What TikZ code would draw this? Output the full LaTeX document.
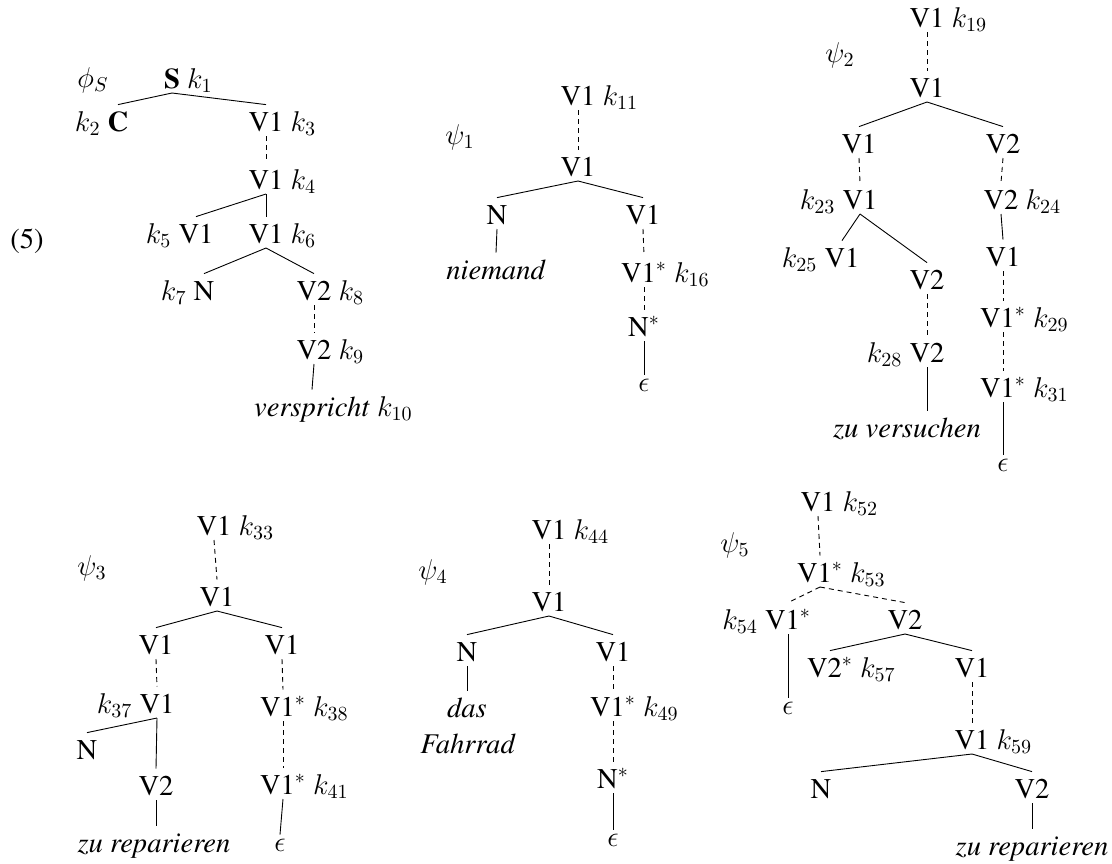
\RequirePackage{fix-cm}
\documentclass[tikz,border=0pt]{standalone}
\usepackage[T1]{fontenc}
\usepackage{times}
\begin{document}
\begin{tikzpicture}[x=0.5pt,y=-0.5pt,
  every node/.style={font=\fontsize{14.3pt}{18pt}\selectfont},
  tn/.style={inner sep=0pt, text height=13pt, text depth=2.3pt, anchor=base},
  en/.style={inner sep=0pt, text height=8pt, text depth=2pt, anchor=base},
  lab/.style={inner sep=0pt, anchor=center},
  sl/.style={line width=0.45pt},
  dl/.style={line width=0.45pt, dash pattern=on 2.5pt off 2pt}]
\useasboundingbox (0,0) rectangle (1112,863);

% ---------- phi_S ----------
\node[lab] (lphi) at (93,80) {$\phi_S$};
\node[lab] (ex) at (27,241) {(5)};
\node[tn] (s1) at (172,88) {\textbf{S}\rlap{ $k_1$}};
\node[tn] (s2) at (118,131) {\llap{$k_2$ }\textbf{C}};
\node[tn] (s3) at (266,131) {V1\rlap{ $k_3$}};
\node[tn] (s4) at (266,189) {V1\rlap{ $k_4$}};
\node[tn] (s5) at (196,243) {\llap{$k_5$ }V1};
\node[tn] (s6) at (266,243) {V1\rlap{ $k_6$}};
\node[tn] (s7) at (204,300) {\llap{$k_7$ }N};
\node[tn] (s8) at (314,300) {V2\rlap{ $k_8$}};
\node[tn] (s9) at (314,359) {V2\rlap{ $k_9$}};
\node[tn] (s10) at (312,416) {\textit{verspricht}\rlap{ $k_{10}$}};
\draw[sl] (s1.south) -- (s2.north);
\draw[sl] (s1.south) -- (s3.north);
\draw[dl] (s3.south) -- (s4.north);
\draw[sl] (s4.south) -- (s5.north);
\draw[sl] (s4.south) -- (s6.north);
\draw[sl] (s6.south) -- (s7.north);
\draw[sl] (s6.south) -- (s8.north);
\draw[dl] (s8.south) -- (s9.north);
\draw[sl] (s9.south) -- (s10.north);

% ---------- psi_1 ----------
\node[lab] (lp1) at (460,137) {$\psi_1$};
\node[tn] (a1) at (578,105) {V1\rlap{ $k_{11}$}};
\node[tn] (b1) at (578,176) {V1};
\node[tn] (c1) at (497,224) {N};
\node[tn] (d1) at (643,224) {V1};
\node[tn] (w1) at (496,279) {\textit{niemand}};
\node[tn] (e1) at (644,282) {V1$^*$\rlap{ $k_{16}$}};
\node[tn] (f1) at (644,336) {N$^*$};
\node[en] (g1) at (644,391) {$\epsilon$};
\draw[dl] (a1.south) -- (b1.north);
\draw[sl] (b1.south) -- (c1.north);
\draw[sl] (b1.south) -- (d1.north);
\draw[sl] (c1.south) -- (w1.north);
\draw[dl] (d1.south) -- (e1.north);
\draw[dl] (e1.south) -- (f1.north);
\draw[sl] (f1.south) -- (g1.north);

% ---------- psi_2 ----------
\node[lab] (lp2) at (840,55) {$\psi_2$};
\node[tn] (a2) at (927,27) {V1\rlap{ $k_{19}$}};
\node[tn] (b2) at (927,97) {V1};
\node[tn] (c2) at (859,153) {V1};
\node[tn] (d2) at (1003,153) {V2};
\node[tn] (e2) at (860,209) {\llap{$k_{23}$ }V1};
\node[tn] (g2) at (1001,209) {V2\rlap{ $k_{24}$}};
\node[tn] (f2) at (842,267) {\llap{$k_{25}$ }V1};
\node[tn] (h2) at (927,289) {V2};
\node[tn] (i2) at (927,362) {\llap{$k_{28}$ }V2};
\node[tn] (w2) at (907,437) {\textit{zu versuchen}};
\node[tn] (j2) at (1003,266) {V1};
\node[tn] (k2) at (1003,327) {V1$^*$\rlap{ $k_{29}$}};
\node[tn] (l2) at (1003,397) {V1$^*$\rlap{ $k_{31}$}};
\node[en] (m2) at (1003,471) {$\epsilon$};
\draw[dl] (a2.south) -- (b2.north);
\draw[sl] (b2.south) -- (c2.north);
\draw[sl] (b2.south) -- (d2.north);
\draw[dl] (c2.south) -- (e2.north);
\draw[dl] (d2.south) -- (g2.north);
\draw[sl] (e2.south) -- (f2.north);
\draw[sl] (e2.south) -- (h2.north);
\draw[dl] (h2.south) -- (i2.north);
\draw[sl] (i2.south) -- (i2.south |- w2.north);
\draw[sl] (g2.south) -- (j2.north);
\draw[dl] (j2.south) -- (k2.north);
\draw[dl] (k2.south) -- (l2.north);
\draw[sl] (l2.south) -- (m2.north);

% ---------- psi_3 ----------
\node[lab] (lp3) at (92,568) {$\psi_3$};
\node[tn] (a3) at (214,535) {V1\rlap{ $k_{33}$}};
\node[tn] (b3) at (217,606) {V1};
\node[tn] (c3) at (156,654) {V1};
\node[tn] (d3) at (282,654) {V1};
\node[tn] (e3) at (157,713) {\llap{$k_{37}$ }V1};
\node[tn] (n3) at (87,759) {N};
\node[tn] (v3) at (156,795) {V2};
\node[tn] (w3) at (154,852) {\textit{zu reparieren}};
\node[tn] (f3) at (283,716) {V1$^*$\rlap{ $k_{38}$}};
\node[tn] (g3) at (283,794) {V1$^*$\rlap{ $k_{41}$}};
\node[en] (h3) at (280,851) {$\epsilon$};
\draw[dl] (a3.south) -- (b3.north);
\draw[sl] (b3.south) -- (c3.north);
\draw[sl] (b3.south) -- (d3.north);
\draw[dl] (c3.south) -- (e3.north);
\draw[sl] (e3.south) -- (n3.north);
\draw[sl] (e3.south) -- (v3.north);
\draw[sl] (v3.south) -- (v3.south |- w3.north);
\draw[dl] (d3.south) -- (f3.north);
\draw[dl] (f3.south) -- (g3.north);
\draw[sl] (g3.south) -- (h3.north);

% ---------- psi_4 ----------
\node[lab] (lp4) at (433,572) {$\psi_4$};
\node[tn] (a4) at (549,539) {V1\rlap{ $k_{44}$}};
\node[tn] (b4) at (549,611) {V1};
\node[tn] (c4) at (467,661) {N};
\node[tn] (d4) at (613,661) {V1};
\node[tn] (w4) at (467,717) {\textit{das}};
\node[tn] (x4) at (468,753) {\textit{Fahrrad}};
\node[tn] (e4) at (613,716) {V1$^*$\rlap{ $k_{49}$}};
\node[tn] (f4) at (613,788) {N$^*$};
\node[en] (g4) at (613,846) {$\epsilon$};
\draw[dl] (a4.south) -- (b4.north);
\draw[sl] (b4.south) -- (c4.north);
\draw[sl] (b4.south) -- (d4.north);
\draw[sl] (c4.south) -- (w4.north);
\draw[dl] (d4.south) -- (e4.north);
\draw[dl] (e4.south) -- (f4.north);
\draw[sl] (f4.south) -- (g4.north);

% ---------- psi_5 ----------
\node[lab] (lp5) at (735,545) {$\psi_5$};
\node[tn] (a5) at (818,511) {V1\rlap{ $k_{52}$}};
\node[tn] (b5) at (820,582) {V1$^*$\rlap{ $k_{53}$}};
\node[tn] (c5) at (788,629) {\llap{$k_{54}$ }V1$^*$};
\node[tn] (d5) at (905,629) {V2};
\node[en] (h5) at (788,714) {$\epsilon$};
\node[tn] (e5) at (830,677) {V2$^*$\rlap{ $k_{57}$}};
\node[tn] (f5) at (972,677) {V1};
\node[tn] (g5) at (972,749) {V1\rlap{ $k_{59}$}};
\node[tn] (n5) at (821,798) {N};
\node[tn] (v5) at (1032,798) {V2};
\node[tn] (w5) at (1032,855) {\textit{zu reparieren}};
\draw[dl] (a5.south) -- (b5.north);
\draw[dl] (b5.south) -- (c5.north);
\draw[dl] (b5.south) -- (d5.north);
\draw[sl] (c5.south) -- (h5.north);
\draw[sl] (d5.south) -- (e5.north);
\draw[sl] (d5.south) -- (f5.north);
\draw[dl] (f5.south) -- (g5.north);
\draw[sl] (g5.south) -- (n5.north);
\draw[sl] (g5.south) -- (v5.north);
\draw[sl] (v5.south) -- (w5.north);
\end{tikzpicture}
\end{document}
